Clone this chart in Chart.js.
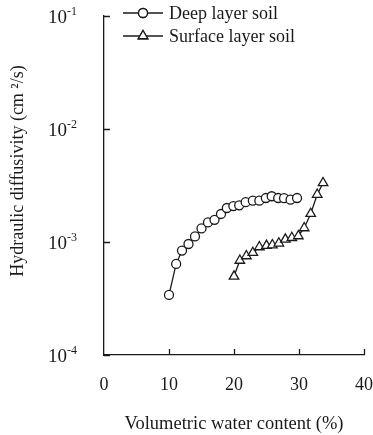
<!DOCTYPE html>
<html>
<head>
<meta charset="utf-8">
<script src="https://cdn.jsdelivr.net/npm/chart.js@4"></script>
<style>
  html,body{margin:0;padding:0;background:#fff;}
  #c{display:block;}
</style>
</head>
<body>
<canvas id="c" width="373" height="435"></canvas>
<script>
// data
const deepX=[10.0,11.1,12.0,13.0,14.0,15.0,16.0,17.0,18.0,18.9,19.9,20.8,21.8,22.9,23.9,24.9,25.8,26.8,27.7,28.7,29.7];
const deepY=[3.4e-4,6.4e-4,8.4e-4,9.6e-4,1.12e-3,1.32e-3,1.49e-3,1.57e-3,1.77e-3,2.0e-3,2.08e-3,2.11e-3,2.25e-3,2.32e-3,2.32e-3,2.45e-3,2.54e-3,2.45e-3,2.44e-3,2.37e-3,2.45e-3];
const surfX=[20.0,20.9,21.9,22.9,23.9,25.0,25.9,26.9,27.9,28.9,29.9,30.8,31.8,32.8,33.7];
const surfY=[4.97e-4,6.86e-4,7.52e-4,8.04e-4,9.03e-4,9.28e-4,9.4e-4,9.74e-4,1.056e-3,1.09e-3,1.13e-3,1.33e-3,1.78e-3,2.63e-3,3.33e-3];
const seriesNames=['Deep layer soil','Surface layer soil'];
const xTicks=[0,10,20,30,40];
const yTicks=[1e-4,1e-3,1e-2,1e-1];
const yExponents=['-4','-3','-2','-1'];
const xTitle='Volumetric water content (%)';
const yTitle='Hydraulic diffusivity (cm \u00b2/s)';

const INK='#1a1a1a';
const SERIF='"Liberation Serif","Times New Roman",serif';

const toPoints=(xs,ys)=>xs.map((x,i)=>({x,y:ys[i]}));

// inward ticks, power-of-ten labels, y title and line+marker legend
const decorations={
  id:'decorations',
  afterDraw(chart){
    const ctx=chart.ctx;
    const xs=chart.scales.x, ys=chart.scales.y;
    const area=chart.chartArea;
    ctx.save();
    ctx.strokeStyle=INK;
    ctx.lineWidth=1.3;
    ctx.beginPath();
    yTicks.forEach(v=>{
      const py=Math.round(ys.getPixelForValue(v))+0.5;
      ctx.moveTo(area.left,py);ctx.lineTo(area.left+6,py);
    });
    xTicks.slice(1).forEach(v=>{
      const px=Math.round(xs.getPixelForValue(v))+0.5;
      ctx.moveTo(px,area.bottom);ctx.lineTo(px,area.bottom-6);
    });
    ctx.stroke();

    ctx.fillStyle=INK;
    ctx.textBaseline='middle';
    ctx.textAlign='left';
    yTicks.forEach((v,i)=>{
      const py=ys.getPixelForValue(v);
      ctx.font='19px '+SERIF;
      ctx.fillText('10',48,py+2);
      ctx.font='12px '+SERIF;
      ctx.fillText(yExponents[i],67,py-4);
    });

    // y title
    ctx.save();
    ctx.translate(18,171);
    ctx.rotate(-Math.PI/2);
    ctx.textAlign='center';
    ctx.font='18px '+SERIF;
    ctx.fillText(yTitle,0,0);
    ctx.restore();

    // legend
    const items=[{y:13,style:'circle'},{y:36,style:'triangle'}];
    items.forEach((it,i)=>{
      ctx.beginPath();
      ctx.lineWidth=1.3;
      ctx.strokeStyle=INK;
      ctx.moveTo(123,it.y);ctx.lineTo(163,it.y);
      ctx.stroke();
      ctx.fillStyle='#fff';
      Chart.helpers.drawPoint(ctx,{pointStyle:it.style,radius:it.style==='circle'?4.5:5.5,borderWidth:1.3,rotation:0},143,it.y);
      ctx.fill();
      ctx.stroke();
      ctx.fillStyle=INK;
      ctx.font='18px '+SERIF;
      ctx.textAlign='left';
      ctx.fillText(seriesNames[i],169,it.y+1);
    });
    ctx.restore();
  }
};

new Chart(document.getElementById('c'),{
  type:'scatter',
  data:{
    datasets:[
      {label:seriesNames[0],data:toPoints(deepX,deepY),showLine:true,borderColor:INK,borderWidth:1.3,
       pointStyle:'circle',pointRadius:4.5,pointBackgroundColor:'#fff',pointBorderColor:INK,pointBorderWidth:1.3},
      {label:seriesNames[1],data:toPoints(surfX,surfY),showLine:true,borderColor:INK,borderWidth:1.3,
       pointStyle:'triangle',pointRadius:5.5,pointBackgroundColor:'#fff',pointBorderColor:INK,pointBorderWidth:1.3}
    ]
  },
  options:{
    responsive:false,
    animation:false,
    layout:{padding:{top:16,right:9,left:0,bottom:0}},
    plugins:{legend:{display:false},tooltip:{enabled:false}},
    scales:{
      x:{
        type:'linear',min:0,max:40,
        afterBuildTicks:s=>{s.ticks=xTicks.map(v=>({value:v}));},
        afterFit:s=>{s.height=80;s.paddingLeft=0;s.paddingRight=0;},
        grid:{display:false,drawTicks:false},
        border:{display:true,color:INK,width:1.3},
        ticks:{color:INK,padding:19,font:{family:SERIF,size:18},maxRotation:0},
        title:{display:true,text:xTitle,color:INK,font:{family:SERIF,size:18.5},padding:{top:9,bottom:0}}
      },
      y:{
        type:'logarithmic',min:1e-4,max:1e-1,
        afterBuildTicks:s=>{s.ticks=yTicks.map(v=>({value:v}));},
        afterFit:s=>{s.width=104;s.paddingTop=0;s.paddingBottom=0;},
        grid:{display:false,drawTicks:false},
        border:{display:true,color:INK,width:1.3},
        ticks:{display:false}
      }
    }
  },
  plugins:[decorations]
});
</script>
</body>
</html>
